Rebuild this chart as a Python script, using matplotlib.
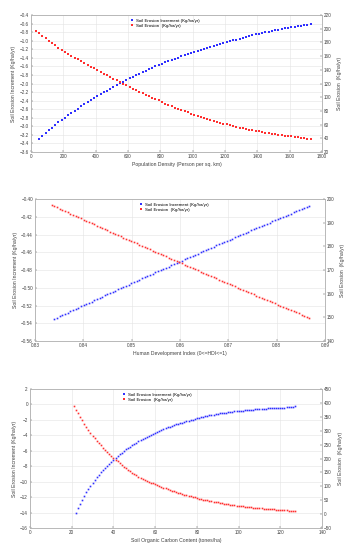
import matplotlib.pyplot as plt

plt.rcParams["font.family"] = ["Liberation Sans", "DejaVu Sans"]

# ---------------- panel 1 : population density ----------------
pop_x = [50, 70, 90, 110, 130, 150, 170, 190, 210, 230,
         250, 270, 290, 310, 330, 350, 370, 390, 410, 430,
         450, 470, 490, 510, 530, 550, 570, 590, 610, 630,
         650, 670, 690, 710, 730, 750, 770, 790, 810, 830,
         850, 870, 890, 910, 930, 950, 970, 990, 1010, 1030,
         1050, 1070, 1090, 1110, 1130, 1150, 1170, 1190, 1210, 1230,
         1250, 1270, 1290, 1310, 1330, 1350, 1370, 1390, 1410, 1430,
         1450, 1470, 1490, 1510, 1530, 1550, 1570, 1590, 1610, 1630,
         1650, 1670, 1690, 1710, 1730]
pop_incr = [-3.29, -3.22, -3.155, -3.09, -3.03, -2.97, -2.91, -2.85, -2.795, -2.742,
            -2.690, -2.638, -2.586, -2.535, -2.485, -2.436, -2.388, -2.340, -2.294, -2.250,
            -2.207, -2.164, -2.122, -2.080, -2.039, -1.998, -1.958, -1.918, -1.879, -1.842,
            -1.806, -1.771, -1.736, -1.701, -1.667, -1.633, -1.600, -1.567, -1.535, -1.506,
            -1.477, -1.449, -1.421, -1.394, -1.367, -1.340, -1.314, -1.288, -1.263, -1.239,
            -1.215, -1.192, -1.169, -1.146, -1.124, -1.102, -1.080, -1.058, -1.037, -1.015,
            -0.994, -0.973, -0.952, -0.932, -0.912, -0.892, -0.873, -0.854, -0.836, -0.819,
            -0.802, -0.785, -0.769, -0.753, -0.738, -0.723, -0.709, -0.695, -0.682, -0.670,
            -0.658, -0.647, -0.636, -0.626, -0.616]
pop_x_eros = [30] + pop_x
pop_eros = [197.0, 193.2, 189.5, 185.9, 182.4, 179.0, 175.7, 172.5, 169.4, 166.4,
            163.5, 160.7, 157.9, 155.2, 152.5, 149.9, 147.3, 144.8, 142.3, 139.8,
            137.2, 134.6, 132.0, 129.5, 127.0, 124.5, 122.0, 119.6, 117.2, 114.8,
            112.5, 110.2, 108.0, 105.8, 103.6, 101.5, 99.4, 97.4, 95.4, 92.8,
            90.8, 88.8, 86.9, 85.0, 83.1, 81.3, 79.5, 77.8, 76.1, 74.4,
            72.8, 71.2, 69.7, 68.2, 66.8, 65.4, 64.0, 62.7, 61.4, 60.2,
            59.0, 57.9, 56.8, 55.7, 54.7, 53.7, 52.7, 51.8, 50.9, 50.0,
            49.2, 48.4, 47.6, 46.8, 46.1, 45.4, 44.7, 44.0, 43.4, 42.8,
            42.2, 41.3, 40.6, 39.9, 39.2, 38.6]

# ---------------- panel 2 : human development index ----------------
hdi_x = [0.83400, 0.83455, 0.83510, 0.83565, 0.83620, 0.83675, 0.83730, 0.83785, 0.83840, 0.83895,
         0.83950, 0.84005, 0.84060, 0.84115, 0.84170, 0.84225, 0.84280, 0.84335, 0.84390, 0.84445,
         0.84500, 0.84555, 0.84610, 0.84665, 0.84720, 0.84775, 0.84830, 0.84885, 0.84940, 0.84995,
         0.85050, 0.85105, 0.85160, 0.85215, 0.85270, 0.85325, 0.85380, 0.85435, 0.85490, 0.85545,
         0.85600, 0.85655, 0.85710, 0.85765, 0.85820, 0.85875, 0.85930, 0.85985, 0.86040, 0.86095,
         0.86150, 0.86205, 0.86260, 0.86315, 0.86370, 0.86425, 0.86480, 0.86535, 0.86590, 0.86645,
         0.86700, 0.86755, 0.86810, 0.86865, 0.86920, 0.86975, 0.87030, 0.87085, 0.87140, 0.87195,
         0.87250, 0.87305, 0.87360, 0.87415, 0.87470, 0.87525, 0.87580, 0.87635, 0.87690, 0.87745,
         0.87800, 0.87855, 0.87910, 0.87965, 0.88020, 0.88075, 0.88130, 0.88185, 0.88240, 0.88295,
         0.88350, 0.88405, 0.88460, 0.88515, 0.88570, 0.88625, 0.88680]
hdi_incr = [-0.5350, -0.5336, -0.5322, -0.5308, -0.5294, -0.5280, -0.5266, -0.5252, -0.5238, -0.5224,
            -0.5210, -0.5196, -0.5182, -0.5169, -0.5155, -0.5141, -0.5127, -0.5113, -0.5099, -0.5086,
            -0.5072, -0.5058, -0.5045, -0.5031, -0.5017, -0.5004, -0.4990, -0.4976, -0.4963, -0.4949,
            -0.4936, -0.4922, -0.4908, -0.4895, -0.4881, -0.4868, -0.4854, -0.4841, -0.4827, -0.4814,
            -0.4800, -0.4787, -0.4774, -0.4761, -0.4747, -0.4734, -0.4721, -0.4707, -0.4694, -0.4681,
            -0.4668, -0.4654, -0.4641, -0.4628, -0.4615, -0.4602, -0.4588, -0.4575, -0.4562, -0.4549,
            -0.4536, -0.4523, -0.4510, -0.4497, -0.4484, -0.4471, -0.4458, -0.4445, -0.4432, -0.4419,
            -0.4406, -0.4393, -0.4380, -0.4367, -0.4354, -0.4341, -0.4328, -0.4316, -0.4303, -0.4290,
            -0.4277, -0.4265, -0.4252, -0.4239, -0.4226, -0.4214, -0.4201, -0.4188, -0.4176, -0.4163,
            -0.4150, -0.4138, -0.4125, -0.4113, -0.4100, -0.4087, -0.4075]
hdi_x_eros = [0.83345] + hdi_x
hdi_eros = [197.50, 196.98, 196.47, 195.95, 195.44, 194.93, 194.41, 193.90, 193.38, 192.87,
            192.36, 191.85, 191.34, 190.83, 190.32, 189.81, 189.30, 188.79, 188.28, 187.78,
            187.27, 186.77, 186.26, 185.75, 185.25, 184.74, 184.24, 183.74, 183.24, 182.73,
            182.23, 181.73, 181.23, 180.73, 180.23, 179.73, 179.23, 178.73, 178.24, 177.74,
            177.24, 176.74, 176.25, 175.75, 175.26, 174.77, 174.27, 173.78, 173.28, 172.79,
            172.30, 171.81, 171.32, 170.83, 170.34, 169.85, 169.36, 168.87, 168.38, 167.90,
            167.41, 166.93, 166.44, 165.95, 165.47, 164.98, 164.50, 164.02, 163.54, 163.05,
            162.57, 162.09, 161.61, 161.13, 160.65, 160.17, 159.69, 159.21, 158.74, 158.26,
            157.78, 157.30, 156.83, 156.35, 155.88, 155.41, 154.93, 154.46, 153.98, 153.51,
            153.04, 152.57, 152.10, 151.63, 151.16, 150.69, 150.22, 149.75]

# ---------------- panel 3 : soil organic carbon ----------------
soc_x = [22, 23, 24, 25, 26, 27, 28, 29, 30, 31,
         32, 33, 34, 35, 36, 37, 38, 39, 40, 41,
         42, 43, 44, 45, 46, 47, 48, 49, 50, 51,
         52, 53, 54, 55, 56, 57, 58, 59, 60, 61,
         62, 63, 64, 65, 66, 67, 68, 69, 70, 71,
         72, 73, 74, 75, 76, 77, 78, 79, 80, 81,
         82, 83, 84, 85, 86, 87, 88, 89, 90, 91,
         92, 93, 94, 95, 96, 97, 98, 99, 100, 101,
         102, 103, 104, 105, 106, 107, 108, 109, 110, 111,
         112, 113, 114, 115, 116, 117, 118, 119, 120, 121,
         122, 123, 124, 125, 126, 127]
soc_incr = [-14.05, -13.46, -12.90, -12.37, -11.87, -11.40, -10.96, -10.55, -10.16, -9.79,
            -9.44, -9.11, -8.79, -8.49, -8.20, -7.92, -7.65, -7.39, -7.14, -6.90,
            -6.67, -6.45, -6.24, -6.03, -5.83, -5.64, -5.45, -5.27, -5.10, -4.93,
            -4.77, -4.61, -4.46, -4.31, -4.17, -4.03, -3.90, -3.77, -3.64, -3.52,
            -3.40, -3.29, -3.18, -3.07, -2.97, -2.87, -2.77, -2.68, -2.59, -2.50,
            -2.42, -2.34, -2.26, -2.18, -2.11, -2.04, -1.97, -1.90, -1.80, -1.73,
            -1.66, -1.60, -1.54, -1.48, -1.42, -1.37, -1.32, -1.27, -1.22, -1.17,
            -1.13, -1.09, -1.05, -1.01, -0.97, -0.94, -0.91, -0.88, -0.85, -0.82,
            -0.79, -0.76, -0.73, -0.71, -0.69, -0.66, -0.64, -0.62, -0.60, -0.58,
            -0.58, -0.57, -0.52, -0.47, -0.46, -0.45, -0.44, -0.42, -0.40, -0.40,
            -0.40, -0.32, -0.30, -0.28, -0.27, -0.26]
soc_x_eros = [21] + soc_x
soc_eros = [390.0, 376.2, 362.9, 350.0, 337.6, 325.7, 314.2, 303.0, 292.3, 282.0,
            272.9, 264.1, 255.5, 247.3, 239.3, 231.6, 224.1, 216.8, 209.8, 203.1,
            196.1, 189.4, 182.9, 176.6, 170.5, 164.6, 159.0, 153.5, 148.2, 143.1,
            139.0, 135.0, 131.2, 127.4, 123.8, 120.2, 116.8, 113.4, 110.2, 107.0,
            103.9, 101.0, 98.1, 95.3, 92.5, 89.9, 87.3, 84.8, 82.4, 80.0,
            77.5, 75.0, 72.6, 70.3, 68.1, 65.9, 63.8, 61.8, 59.8, 57.9,
            56.0, 54.2, 52.5, 50.8, 49.2, 47.6, 46.1, 44.6, 43.2, 41.8,
            40.4, 39.1, 37.8, 36.5, 35.3, 34.2, 33.0, 31.9, 30.9, 29.9,
            28.8, 27.8, 26.9, 25.9, 25.0, 24.2, 23.3, 22.5, 21.7, 21.0,
            20.3, 19.6, 19.0, 18.5, 17.2, 17.0, 16.8, 16.5, 16.3, 16.0,
            15.8, 15.6, 15.4, 12.0, 11.5, 11.0, 10.5]

lbl_incr = "Soil Erosion Increment (Kg/ha/yr)"
lbl_eros = "Soil Erosion  (Kg/ha/yr)"

GRID = "#e4e4e4"
SPINE = "#b4b4b4"
TXT = "#404040"


def lab(fmt):
    # tick text with a clearly visible minus sign
    return lambda v: (fmt % v).replace("-", "\u2212")


def panel(rect, xs, ys, xe, ye, xlim, xticks, ylim, yticks, y2lim, y2ticks,
          xlabel, leg_x, fmt_x, fmt_y, fmt_y2, ms):
    ax = fig.add_axes(rect)
    ax2 = ax.twinx()
    h1, = ax.plot(xs, ys, ls="none", marker="s", ms=ms, mew=0, color="#3030ff")
    h2, = ax2.plot(xe, ye, ls="none", marker="s", ms=ms, mew=0, color="#ff3030")
    ax.set_xlim(*xlim)
    ax.set_xticks(xticks)
    ax.set_xticklabels([lab(fmt_x)(v) for v in xticks])
    ax.set_ylim(*ylim)
    ax.set_yticks(yticks)
    ax.set_yticklabels([lab(fmt_y)(v) for v in yticks])
    ax2.set_ylim(*y2lim)
    ax2.set_yticks(y2ticks)
    ax2.set_yticklabels([lab(fmt_y2)(v) for v in y2ticks])
    ax.grid(True, color=GRID, lw=0.4)
    ax.set_axisbelow(True)
    for a in (ax, ax2):
        for s in a.spines.values():
            s.set_color(SPINE)
            s.set_linewidth(0.5)
        a.tick_params(labelsize=3.3, colors=TXT, length=1.2, width=0.3,
                      direction="in", pad=1.5)
    ax.set_xlabel(xlabel, fontsize=3.7, color=TXT, labelpad=2)
    ax.set_ylabel(lbl_incr, fontsize=3.7, color=TXT, labelpad=2.5)
    ax2.set_ylabel(lbl_eros, fontsize=3.7, color=TXT, labelpad=4)
    ax.legend([h1, h2], [lbl_incr, lbl_eros], loc="upper center",
              bbox_to_anchor=(leg_x, 1.0), frameon=False, fontsize=3.2,
              markerscale=1.3, handlelength=0.8, handletextpad=0.5,
              labelspacing=0.25, borderaxespad=0.4)
    return ax


fig = plt.figure(figsize=(3.54, 5.50), dpi=100)

panel([0.0876, 0.7236, 0.822, 0.249], pop_x, pop_incr, pop_x_eros, pop_eros,
      (0, 1800), list(range(0, 1801, 200)),
      (-3.6, -0.4), [-3.6, -3.4, -3.2, -3.0, -2.8, -2.6, -2.4, -2.2, -2.0,
                     -1.8, -1.6, -1.4, -1.2, -1.0, -0.8, -0.6, -0.4],
      (20, 220), list(range(20, 221, 20)),
      "Population Density (Person per sq. km)", 0.46,
      "%d", "%.1f", "%d", 1.5)

panel([0.0989, 0.380, 0.819, 0.258], hdi_x, hdi_incr, hdi_x_eros, hdi_eros,
      (0.83, 0.89), [0.83, 0.84, 0.85, 0.86, 0.87, 0.88, 0.89],
      (-0.56, -0.40), [-0.56, -0.54, -0.52, -0.50, -0.48, -0.46, -0.44, -0.42, -0.40],
      (140, 200), list(range(140, 201, 10)),
      "Human Development Index (0<=HDI<=1)", 0.48,
      "%.2f", "%.2f", "%d", 1.2)

panel([0.0847, 0.040, 0.825, 0.2527], soc_x, soc_incr, soc_x_eros, soc_eros,
      (0, 140), list(range(0, 141, 20)),
      (-16, 2), list(range(-16, 3, 2)),
      (-50, 450), list(range(-50, 451, 50)),
      "Soil Organic Carbon Content (tones/ha)", 0.435,
      "%d", "%d", "%d", 1.2)

fig.savefig("out.png", dpi=100)
